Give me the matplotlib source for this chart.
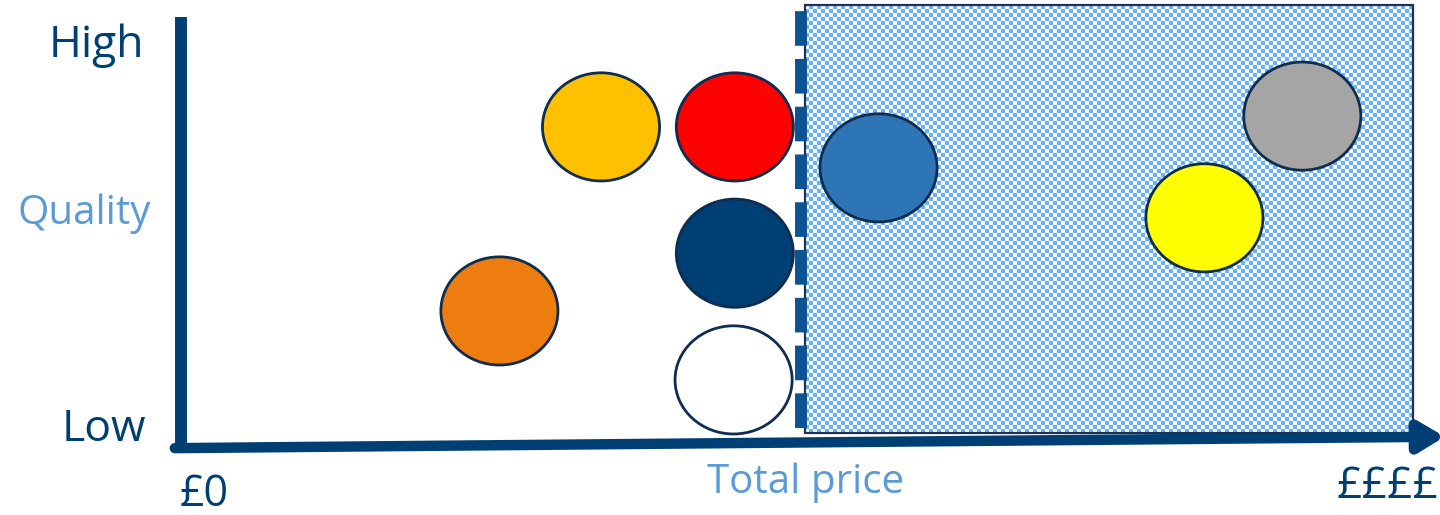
import numpy as np
import matplotlib.pyplot as plt
from matplotlib.patches import Ellipse, Rectangle
from matplotlib.colors import ListedColormap

plt.rcParams['font.family'] = ['Open Sans', 'DejaVu Sans']

# supplier positions: price (0-100) vs quality (0-100)
colours = ['#FFC000', '#FF0000', '#003F73', '#FFFFFF', '#EE7D10', '#2E75B6', '#FFFF00', '#A5A5A5']
price = [33.9, 44.7, 44.7, 44.6, 25.7, 56.3, 82.6, 90.5]
quality = [74.5, 74.5, 45.2, 15.8, 31.8, 65.0, 53.4, 77.0]

budget = 50            # price threshold (dashed line)
zone = [50.36, 99.43, 3.48, 102.78]   # shaded "over budget" zone: x0, x1, y0, y1

navy = '#003F73'
light = '#5B9BD5'

fig = plt.figure(figsize=(14.4, 5.15), dpi=100)
ax = fig.add_axes([181 / 1440, (515 - 448) / 515, (1420 - 181) / 1440, 448 / 515])
ax.set_xlim(0, 100)
ax.set_ylim(0, 448 / 4.31)
ax.axis('off')

# checkered zone, 4px squares
ny, nx = 107, 152
checks = np.indices((ny, nx)).sum(axis=0) % 2
ax.imshow(checks, cmap=ListedColormap(['white', '#66B2FF']), interpolation='nearest',
          extent=zone, aspect='auto', origin='lower', zorder=1, clip_on=False)
ax.add_patch(Rectangle((zone[0], zone[2]), zone[1] - zone[0], zone[3] - zone[2],
                       fill=False, ec='#1F3050', lw=1.6, zorder=2, clip_on=False))

# budget line
ax.plot([budget, budget], [4.6, 102.1], color='#0B5394', lw=8.6,
        dashes=(2.9, 1.1), solid_capstyle='butt', dash_capstyle='butt', zorder=3, clip_on=False)

# suppliers
for c, px, q in zip(colours, price, quality):
    ax.add_patch(Ellipse((px, q), 9.45, 25.1, fc=c, ec='#0F2D50', lw=2, zorder=4))

# axes
ax.plot([0, 0], [-1.2, 100], color=navy, lw=8.6, solid_capstyle='butt', zorder=5, clip_on=False)
ax.annotate('', xy=(102.0, 2.62), xytext=(-0.5, -0.03),
            arrowprops=dict(arrowstyle='-|>,head_length=0.75,head_width=0.45', lw=7.5,
                            color=navy, mutation_scale=20, shrinkA=0, shrinkB=0),
            annotation_clip=False, zorder=5)

def lab(x, y, s, col, size, ha='center'):
    fig.text(x / 1440, 1 - y / 515, s, color=col, fontsize=size, ha=ha, va='baseline')

lab(96, 57, 'High', navy, 32)
lab(104, 441, 'Low', navy, 32)
lab(84, 224, 'Quality', light, 29)
lab(806, 493, 'Total price', light, 29)
lab(204, 506, '£0', navy, 31)
lab(1387, 498, '££££', navy, 32)

fig.savefig('out.png', dpi=100)
